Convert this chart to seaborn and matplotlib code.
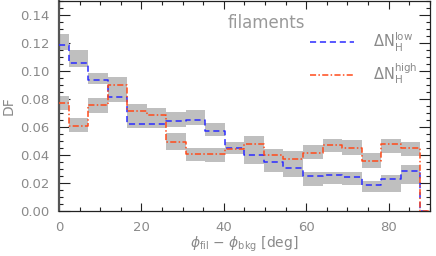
import numpy as np
import pandas as pd
import seaborn as sns
import matplotlib.pyplot as plt
from matplotlib.ticker import MultipleLocator
from matplotlib.lines import Line2D

# bin centres [deg]
angle = [0.0, 4.74, 9.47, 14.21, 18.95, 23.68, 28.42, 33.16, 37.89, 42.63,
         47.37, 52.11, 56.84, 61.58, 66.32, 71.05, 75.79, 80.53, 85.26, 90.0]

df_low = [0.1186, 0.106, 0.0934, 0.0816, 0.0622, 0.0622, 0.0645, 0.0652, 0.057, 0.0452,
          0.040, 0.0348, 0.0307, 0.0248, 0.0255, 0.0241, 0.0187, 0.0229, 0.0284, 0.0]
low_lo = [0.115, 0.1028, 0.0906, 0.0775, 0.0594, 0.0594, 0.0603, 0.0615, 0.0532, 0.0404,
          0.0333, 0.0279, 0.0243, 0.0177, 0.0191, 0.0184, 0.0133, 0.0137, 0.0196, 0.0]
low_hi = [0.1266, 0.1147, 0.0988, 0.087, 0.068, 0.068, 0.0709, 0.0723, 0.0629, 0.0496,
          0.045, 0.040, 0.036, 0.0279, 0.0279, 0.0279, 0.0213, 0.0255, 0.0326, 0.0]

df_high = [0.0768, 0.0608, 0.0757, 0.0903, 0.0714, 0.0686, 0.0494, 0.0404, 0.0404, 0.0442,
           0.048, 0.0402, 0.0374, 0.0416, 0.047, 0.0452, 0.0357, 0.0477, 0.0447, 0.0]
high_lo = [0.0721, 0.0562, 0.0697, 0.0853, 0.066, 0.064, 0.0438, 0.0357, 0.035, 0.0404,
           0.043, 0.035, 0.0325, 0.0369, 0.042, 0.0397, 0.0307, 0.0416, 0.0392, 0.0]
high_hi = [0.0823, 0.0664, 0.081, 0.0957, 0.0764, 0.0735, 0.0555, 0.0449, 0.0449, 0.0496,
           0.0532, 0.044, 0.0428, 0.0468, 0.0516, 0.0504, 0.0416, 0.0516, 0.0491, 0.0]

labels = [r'$\Delta\mathrm{N}_\mathrm{H}^\mathrm{low}$', r'$\Delta\mathrm{N}_\mathrm{H}^\mathrm{high}$']
blue = '#2b2bff'
red = '#ff4a1a'
txt = '#8a8a8a'

sns.set_theme(style='ticks')
plt.rcParams['font.family'] = ['DejaVu Sans']

fig = plt.figure(figsize=(4.36, 2.56), dpi=100)
ax = fig.add_axes([0.1353, 0.176, 0.8507, 0.82])

data = pd.DataFrame({'angle': angle, 'low': df_low, 'high': df_high})

# gray uncertainty bands
for lo, hi in [(low_lo, low_hi), (high_lo, high_hi)]:
    ax.fill_between(angle, lo, hi, step='mid', color='#bfbfbf', lw=0, zorder=1)

sns.lineplot(data=data, x='angle', y='low', ax=ax, drawstyle='steps-mid',
             color=blue, lw=1.1, linestyle=(0, (4, 2.5)), zorder=3)
sns.lineplot(data=data, x='angle', y='high', ax=ax, drawstyle='steps-mid',
             color=red, lw=1.1, linestyle=(0, (4, 1.5, 1, 1.5)), zorder=3)

ax.set_xlim(0, 90)
ax.set_ylim(0, 0.15)
ax.xaxis.set_major_locator(MultipleLocator(20))
ax.xaxis.set_minor_locator(MultipleLocator(5))
ax.yaxis.set_minor_locator(MultipleLocator(0.005))
ax.set_yticks([0, 0.02, 0.04, 0.06, 0.08, 0.10, 0.12, 0.14])
ax.set_yticklabels(['0.00', '0.02', '0.04', '0.06', '0.08', '0.10', '0.12', '0.14'])
ax.tick_params(which='both', direction='in', top=True, right=True, colors='#222222',
               labelcolor=txt, labelsize=9.5, width=0.8)
ax.tick_params(which='major', length=6, pad=7)
ax.tick_params(which='minor', length=3)
ax.tick_params(axis='y', which='major', length=8)
for s in ax.spines.values():
    s.set_color('#222222')
    s.set_linewidth(0.9)
ax.spines['left'].set_linewidth(1.6)
ax.spines['left'].set_color('#555555')

ax.set_xlabel(r'$\phi_\mathrm{fil}$ $-$ $\phi_\mathrm{bkg}$ [deg]', color=txt, fontsize=10, labelpad=1)
ax.set_ylabel('DF', color=txt, fontsize=10, labelpad=3)

ax.text(0.455, 0.895, 'filaments', transform=ax.transAxes, color='#999999',
        fontsize=12, va='center', ha='left')

handles = [Line2D([], [], color=blue, lw=1.1, linestyle=(0, (4, 2.5))),
           Line2D([], [], color=red, lw=1.1, linestyle=(0, (4, 1.5, 1, 1.5)))]
leg = ax.legend(handles, labels, loc='upper left', bbox_to_anchor=(0.677, 0.86),
                frameon=False, fontsize=10.5, handlelength=3.0, handletextpad=1.3,
                labelspacing=0.55, borderpad=0, borderaxespad=0)
for t in leg.get_texts():
    t.set_color(txt)

fig.savefig('out.png', dpi=100)
